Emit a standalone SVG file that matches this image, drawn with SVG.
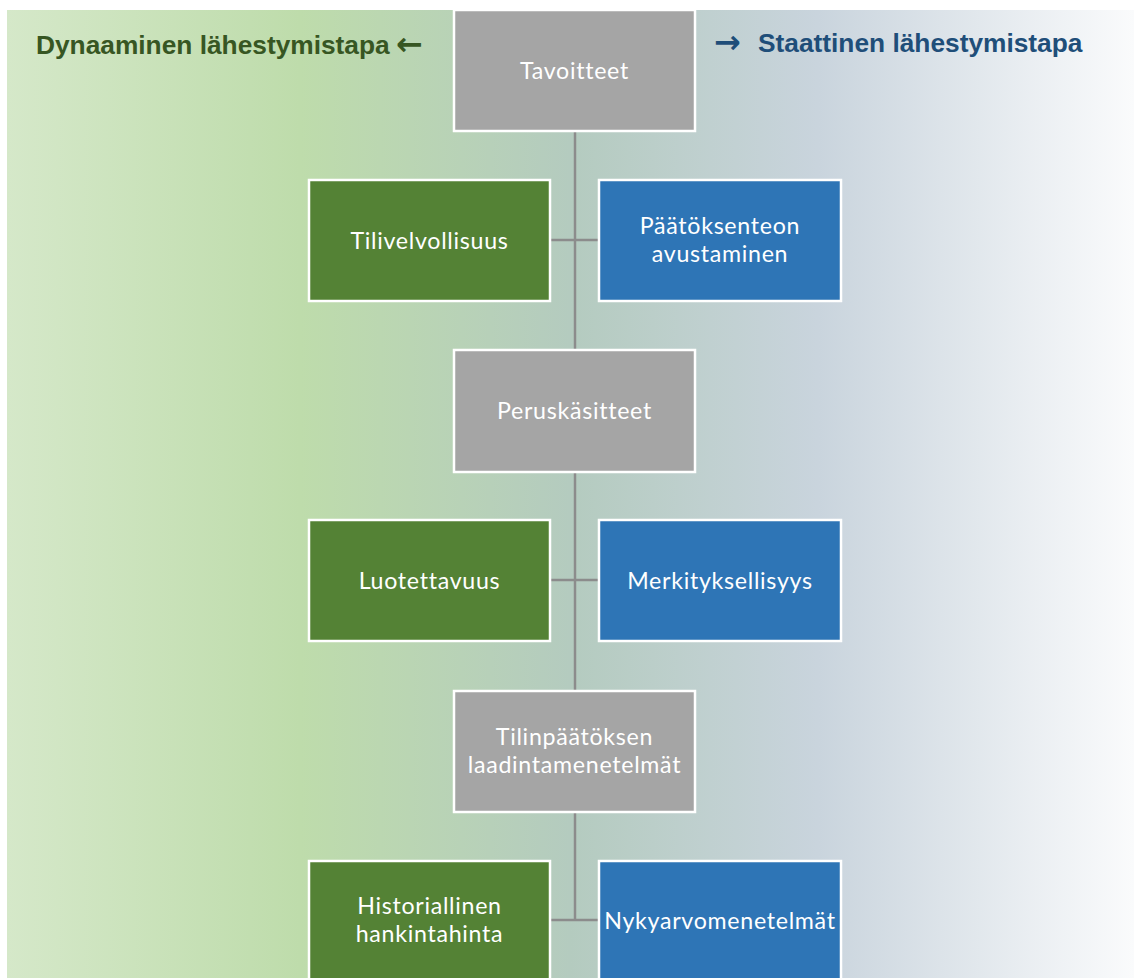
<svg xmlns="http://www.w3.org/2000/svg" width="1134" height="978" viewBox="0 0 1134 978">
<style>
.box{stroke:#ffffff;stroke-width:2.5}
.gray{fill:#a5a5a5}
.green{fill:#548235}
.blue{fill:#2e75b6}
.lbl{font-family:Lato,"Open Sans",sans-serif;font-size:23.2px;letter-spacing:0.7px;fill:#ffffff;text-anchor:middle}
.conn{stroke:#8c8c8c;stroke-width:2.5;fill:none}
.title{font-family:"Liberation Sans",Arial,sans-serif;font-weight:bold;font-size:26.3px}
.arrow{font-family:"DejaVu Sans",sans-serif;font-weight:bold;font-size:32px}
</style>
<defs>
<linearGradient id="bg" x1="0" y1="0" x2="1" y2="0">
<stop offset="0" stop-color="#d5e8c9"/>
<stop offset="0.26" stop-color="#bedcab"/>
<stop offset="0.5" stop-color="#b4cbbf"/>
<stop offset="0.72" stop-color="#c9d4dd"/>
<stop offset="1" stop-color="#fafbfc"/>
</linearGradient>
</defs>
<rect x="0" y="0" width="1134" height="978" fill="#ffffff"/>
<rect id="background" x="7" y="10" width="1127" height="968" fill="url(#bg)"/>
<text id="title-left" class="title" x="36" y="54" fill="#375623">Dynaaminen lähestymistapa</text>
<text class="arrow" x="396" y="55" fill="#375623">←</text>
<text class="arrow" x="714" y="53" fill="#1f4e79">→</text>
<text id="title-right" class="title" x="758" y="52" fill="#1f4e79">Staattinen lähestymistapa</text>
<g id="connectors">
<line class="conn" x1="575" y1="131" x2="575" y2="350"/>
<line class="conn" x1="550" y1="240" x2="599" y2="240"/>
<line class="conn" x1="575" y1="472" x2="575" y2="691"/>
<line class="conn" x1="550" y1="580" x2="599" y2="580"/>
<line class="conn" x1="575" y1="812" x2="575" y2="920"/>
<line class="conn" x1="550" y1="920" x2="599" y2="920"/>
</g>
<g id="tavoitteet">
<rect class="box gray" x="454" y="10" width="241" height="121"/>
<text class="lbl" x="574.5" y="78.5">Tavoitteet</text>
</g>
<g id="tilivelvollisuus">
<rect class="box green" x="309" y="180" width="241" height="121"/>
<text class="lbl" x="429.5" y="248.5">Tilivelvollisuus</text>
</g>
<g id="paatoksenteon">
<rect class="box blue" x="599" y="180" width="242" height="121"/>
<text class="lbl" x="720" y="234">Päätöksenteon</text>
<text class="lbl" x="720" y="262">avustaminen</text>
</g>
<g id="peruskasitteet">
<rect class="box gray" x="454" y="350" width="241" height="122"/>
<text class="lbl" x="574.5" y="419">Peruskäsitteet</text>
</g>
<g id="luotettavuus">
<rect class="box green" x="309" y="520" width="241" height="121"/>
<text class="lbl" x="429.5" y="588.5">Luotettavuus</text>
</g>
<g id="merkityksellisyys">
<rect class="box blue" x="599" y="520" width="242" height="121"/>
<text class="lbl" x="720" y="588.5">Merkityksellisyys</text>
</g>
<g id="tilinpaatoksen">
<rect class="box gray" x="454" y="691" width="241" height="121"/>
<text class="lbl" x="574.5" y="745">Tilinpäätöksen</text>
<text class="lbl" x="574.5" y="773">laadintamenetelmät</text>
</g>
<g id="historiallinen">
<rect class="box green" x="309" y="861" width="241" height="121"/>
<text class="lbl" x="429.5" y="914">Historiallinen</text>
<text class="lbl" x="429.5" y="942">hankintahinta</text>
</g>
<g id="nykyarvo">
<rect class="box blue" x="599" y="861" width="242" height="121"/>
<text class="lbl" x="720" y="929">Nykyarvomenetelmät</text>
</g>
</svg>
